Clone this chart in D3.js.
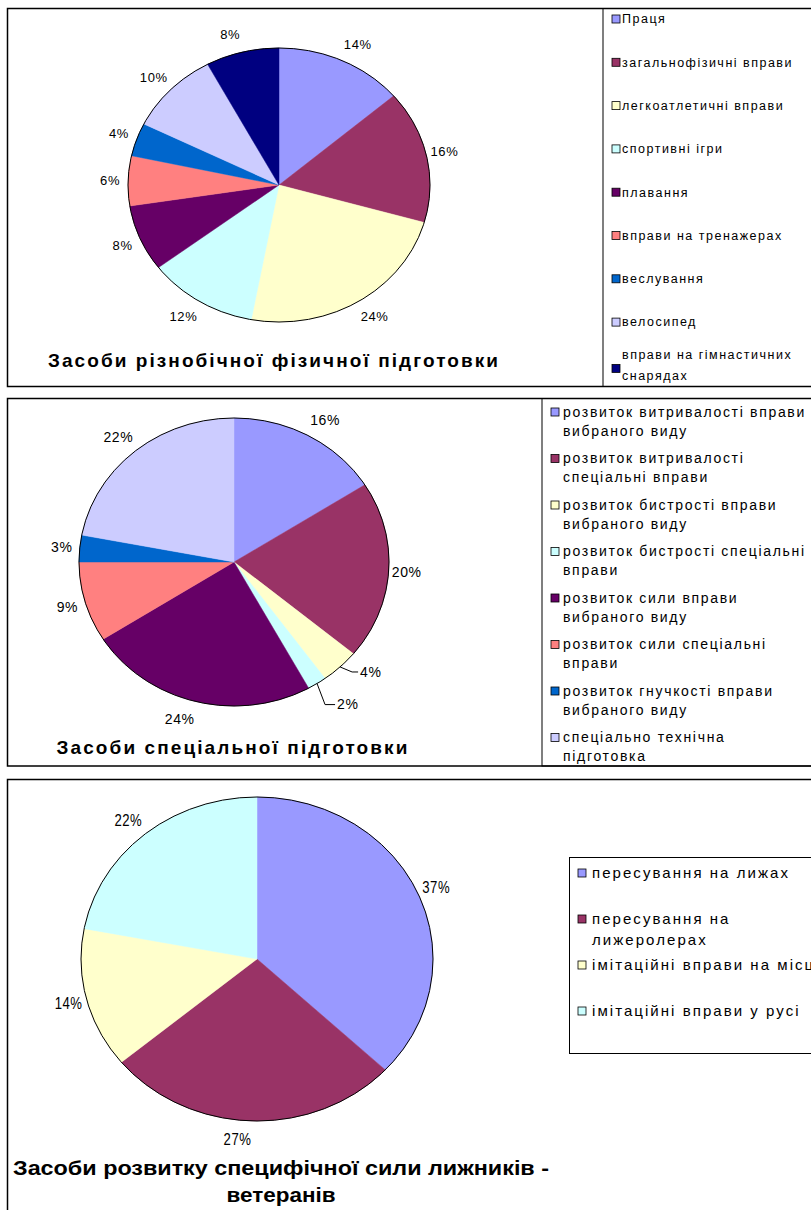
<!DOCTYPE html>
<html>
<head>
<meta charset="utf-8">
<script src="https://cdn.jsdelivr.net/npm/d3@7"></script>
<style>
  body { margin: 0; background: #fff; }
  svg { display: block; }
  text { font-family: "Liberation Sans", Arial, sans-serif; fill: #000; }
</style>
</head>
<body>
<svg></svg>
<script>
// data
const cats1 = ["Праця", "загальнофізичні вправи", "легкоатлетичні вправи", "спортивні ігри",
  "плавання", "вправи на тренажерах", "веслування", "велосипед", "вправи на гімнастичних снарядах"];
const vals1 = [7, 8, 12, 6, 4, 3, 2, 5, 4];

const cats2 = ["розвиток витривалості вправи вибраного виду", "розвиток витривалості спеціальні вправи",
  "розвиток бистрості вправи вибраного виду", "розвиток бистрості спеціальні вправи",
  "розвиток сили вправи вибраного виду", "розвиток сили спеціальні вправи",
  "розвиток гнучкості вправи вибраного виду", "спеціально технічна підготовка"];
const vals2 = [16, 20, 4, 2, 24, 9, 3, 22];

const cats3 = ["пересування на лижах", "пересування на лижеролерах", "імітаційні вправи на місці", "імітаційні вправи у русі"];
const vals3 = [37, 27, 14, 22];

const title1 = ["Засоби різнобічної фізичної підготовки"];
const title2 = ["Засоби спеціальної підготовки"];
const title3 = ["Засоби розвитку специфічної сили лижників -", "ветеранів"];

const palette = ["#9999FF", "#993366", "#FFFFCC", "#CCFFFF", "#660066", "#FF8080", "#0066CC", "#CCCCFF", "#000080"];

let width = 811;
let height = 1210;

let svg = d3.select("svg")
  .attr("width", width)
  .attr("height", height);

svg.append("rect").attr("width", width).attr("height", height).attr("fill", "#fff");

let pct = d3.format(".0%");

let charts = [
  {
    cats: cats1, vals: vals1, title: title1,
    panel: {y: 8.5, h: 378},
    pie: {cx: 279, cy: 185, rx: 151, ry: 137, off: 18, font: 13, squeeze: 1},
    legend: {x: 603, y: 8.5, h: 378, sq: 612, tx: 622, y0: 19, step: 43.3, lh: 21, font: 12.5,
             fit: ["загальнофізичні вправи", 171], maxW: 186, center: true},
    t: {x: 274, y: [360], w: [452], font: 19, squeeze: false}
  },
  {
    cats: cats2, vals: vals2, title: title2,
    panel: {y: 398.5, h: 367.5},
    pie: {cx: 234, cy: 562, rx: 155, ry: 144, off: 18, font: 14, squeeze: 1,
          leaders: {2: {elbow: [12, 5], text: [20, 5]}, 3: {elbow: [8, 21], text: [20, 21]}}},
    legend: {x: 542, y: 398.5, h: 367.5, sq: 551, tx: 563, y0: 412, step: 46.5, lh: 19, font: 14,
             fit: ["розвиток витривалості вправи", 243], maxW: 247, center: false},
    t: {x: 233, y: [747], w: [353], font: 19, squeeze: false}
  },
  {
    cats: cats3, vals: vals3, title: title3,
    panel: {y: 779.5, h: 700},
    pie: {cx: 257, cy: 959, rx: 176, ry: 162, off: 18, font: 16, squeeze: 0.82},
    legend: {x: 569.5, y: 857.5, h: 196, sq: 578, tx: 592, y0: 873, step: 46, lh: 21, font: 15,
             fit: ["пересування на лижах", 198], maxW: 258, center: false},
    t: {x: 281, y: [1168, 1195], w: [536, 109], font: 21, squeeze: true}
  }
];

charts.forEach(drawChart);

function drawChart(c) {
  let g = svg.append("g");

  // panel frame
  g.append("rect")
    .attr("x", 7.5).attr("y", c.panel.y)
    .attr("width", 1000).attr("height", c.panel.h)
    .attr("fill", "none").attr("stroke", "#000").attr("stroke-width", 1.5);

  // pie, drawn as a circle and squashed to the ellipse of the picture
  let p = c.pie;
  let arcs = d3.pie().sort(null).value(d => d)(c.vals);
  let total = d3.sum(c.vals);
  let arc = d3.arc().innerRadius(0).outerRadius(p.rx);

  let pieG = g.append("g")
    .attr("transform", `translate(${p.cx},${p.cy}) scale(1,${p.ry / p.rx})`);

  pieG.selectAll("path")
    .data(arcs)
    .enter()
    .append("path")
    .attr("d", arc)
    .attr("fill", (d, i) => palette[i])
    .attr("stroke", (d, i) => palette[i])
    .attr("stroke-width", 0.5);

  g.append("ellipse")
    .attr("cx", p.cx).attr("cy", p.cy)
    .attr("rx", p.rx).attr("ry", p.ry)
    .attr("fill", "none").attr("stroke", "#000").attr("stroke-width", 1);

  // percentage labels
  arcs.forEach((d, i) => {
    let a = (d.startAngle + d.endAngle) / 2;
    let s = Math.sin(a), co = Math.cos(a);
    let label = pct(d.value / total);
    let leader = p.leaders && p.leaders[i];

    let t = g.append("text")
      .attr("dy", "0.35em")
      .style("font-size", p.font + "px")
      .style("letter-spacing", "0.6px")
      .text(label);
    let w = t.node().getComputedTextLength();
    if (p.squeeze !== 1) {
      w = w * p.squeeze;
      t.attr("textLength", w).attr("lengthAdjust", "spacingAndGlyphs");
    }

    if (leader) {
      let ex = p.cx + s * p.rx, ey = p.cy - co * p.ry;
      g.append("polyline")
        .attr("points", [[ex, ey], [ex + leader.elbow[0], ey + leader.elbow[1]], [ex + leader.text[0] - 2, ey + leader.text[1]]].join(" "))
        .attr("fill", "none").attr("stroke", "#000").attr("stroke-width", 1);
      t.attr("x", ex + leader.text[0]).attr("y", ey + leader.text[1]);
      return;
    }

    let x = p.cx + s * (p.rx + p.off) + Math.sign(s) * (1 - Math.abs(s)) * w / 2;
    let y = p.cy - co * (p.ry + p.off);
    t.attr("x", x - w / 2).attr("y", y);
  });

  // legend
  let L = c.legend;
  g.append("rect")
    .attr("x", L.x).attr("y", L.y)
    .attr("width", 400).attr("height", L.h)
    .attr("fill", "none").attr("stroke", "#000").attr("stroke-width", 1);

  let ls = fitSpacing(L.fit[0], L.font, L.fit[1]);

  c.cats.forEach((name, i) => {
    let lines = wrap(name, L.font, ls, L.maxW);
    let top;
    if (L.center) top = L.y0 + i * L.step - (lines.length - 1) * L.lh / 2;
    else top = L.y0 + i * L.step;
    let sqY = L.center ? L.y0 + i * L.step + (lines.length - 1) * 3 : top;

    g.append("rect")
      .attr("x", L.sq).attr("y", sqY - 4)
      .attr("width", 8).attr("height", 8)
      .attr("fill", palette[i]).attr("stroke", "#000").attr("stroke-width", 0.8);

    lines.forEach((ln, k) => {
      g.append("text")
        .attr("x", L.tx).attr("y", top + k * L.lh)
        .attr("dy", "0.35em")
        .style("font-size", L.font + "px")
        .style("letter-spacing", ls + "px")
        .text(ln);
    });
  });

  // title
  let T = c.t;
  c.title.forEach((ln, k) => {
    let t = g.append("text")
      .attr("x", T.x).attr("y", T.y[k])
      .attr("dy", "0.35em")
      .attr("text-anchor", "middle")
      .style("font-size", T.font + "px")
      .style("font-weight", "bold")
      .text(ln);
    if (T.squeeze) {
      t.attr("textLength", T.w[k]).attr("lengthAdjust", "spacingAndGlyphs");
    } else {
      let natural = t.node().getComputedTextLength();
      t.style("letter-spacing", ((T.w[k] - natural) / ln.length) + "px");
    }
  });
}

function measure(str, font, ls) {
  let probe = svg.append("text")
    .style("font-size", font + "px")
    .style("letter-spacing", ls + "px")
    .text(str);
  let w = probe.node().getComputedTextLength();
  probe.remove();
  return w;
}

function fitSpacing(str, font, target) {
  let natural = measure(str, font, 0);
  return (target - natural) / str.length;
}

function wrap(str, font, ls, maxW) {
  let words = str.split(" ");
  let lines = [];
  let cur = words[0];
  for (let j = 1; j < words.length; j++) {
    let test = cur + " " + words[j];
    if (measure(test, font, ls) > maxW) {
      lines.push(cur);
      cur = words[j];
    } else cur = test;
  }
  lines.push(cur);
  return lines;
}
</script>
</body>
</html>
